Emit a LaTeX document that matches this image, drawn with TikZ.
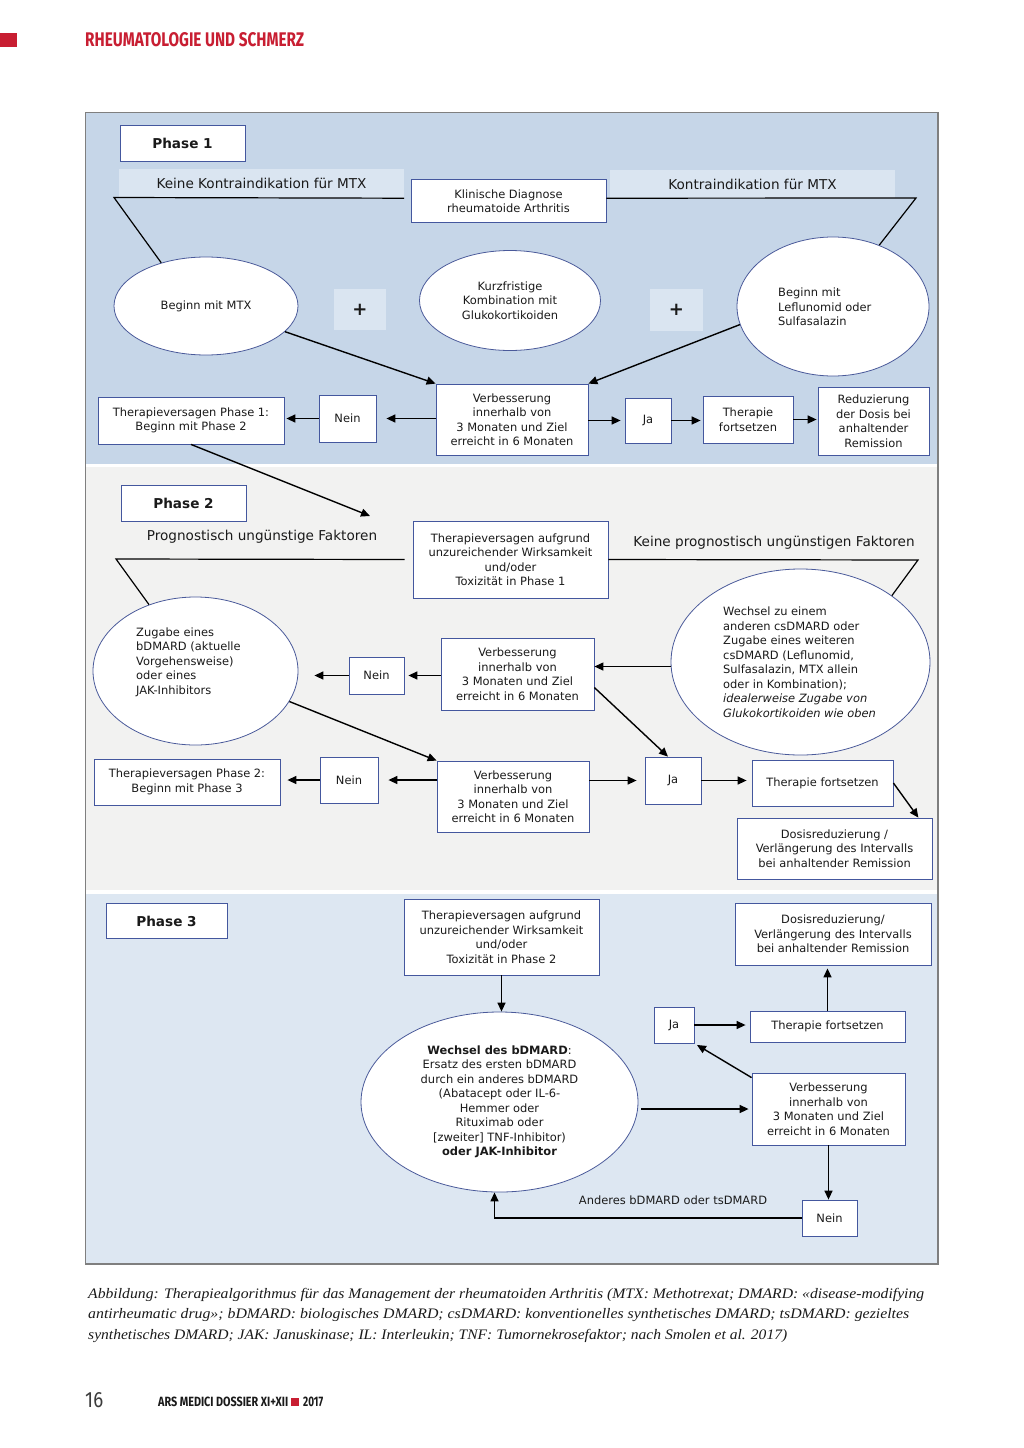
\documentclass[tikz,border=0pt]{standalone}
\usepackage{fontspec}
\usepackage{graphicx}
\usetikzlibrary{arrows.meta,shapes.geometric}
\setmainfont{DejaVu Sans}
\newfontfamily\headfont{Fira Sans}
\newfontfamily\capfont{Liberation Serif}
\definecolor{pone}{HTML}{C6D6E8}
\definecolor{ptwo}{HTML}{F2F2F1}
\definecolor{pthree}{HTML}{DDE7F2}
\definecolor{barc}{HTML}{DAE5F1}
\definecolor{boxc}{HTML}{44579E}
\definecolor{ellc}{HTML}{4A5A9A}
\definecolor{framec}{HTML}{7F7F7F}
\definecolor{redc}{HTML}{C81E32}
\definecolor{txtc}{HTML}{1A1A1A}
\newcommand\bxf{\fontsize{11.45}{14.5}\selectfont}
\newcommand\lbf{\fontsize{13.6}{16}\selectfont}
\begin{document}
\begin{tikzpicture}[x=1pt,y=-1pt,
  box/.style={draw=boxc, fill=white, line width=0.8pt, inner sep=0pt, align=center, font=\bxf, text=txtc},
  ell/.style={ellipse, draw=ellc, fill=white, line width=0.8pt, inner sep=0pt, align=center, font=\bxf, text=txtc},
  etext/.style={anchor=west, inner sep=0pt, align=left, font=\bxf, text=txtc},
  bar/.style={fill=barc, inner sep=0pt, font=\lbf, text=txtc},
  lbl/.style={inner sep=0pt, font=\lbf, text=txtc},
  phasebox/.style={box, font=\lbf\bfseries},
  plusbox/.style={bar, font=\fontsize{18}{18}\selectfont\bfseries},
  arr/.style={line width=1.4pt, -{Triangle[length=9pt,width=8pt]}},
  conn/.style={line width=1.2pt}]
\useasboundingbox (0,0) rectangle (1024,1448);
\fill[white] (0,0) rectangle (1024,1448);
% header
\fill[redc] (0,33) rectangle (17,47);
\node[anchor=west, inner sep=0pt, text=redc] (hd) at (85,40) {\resizebox{219pt}{14pt}{\headfont\bfseries RHEUMATOLOGIE UND SCHMERZ}};
% bands
\fill[pone] (85,113) rectangle (938,464);
\fill[ptwo] (85,467) rectangle (938,890);
\fill[pthree] (85,894) rectangle (938,1264);
\draw[framec, line width=1.2pt] (85.5,112.5) rectangle (938,1264);

% ---------- Phase 1
\node[phasebox, minimum width=125, minimum height=36] (ph1) at (182.5,143) {Phase 1};
\node[bar, minimum width=285, minimum height=29] (kb1) at (261.5,183.5) {Keine Kontraindikation für MTX};
\node[box, minimum width=195, minimum height=43] (klin) at (508.5,201) {Klinische Diagnose\\rheumatoide Arthritis};
\node[bar, minimum width=285, minimum height=28] (kb2) at (752.5,184) {Kontraindikation für MTX};
\node[plusbox, minimum width=52, minimum height=41] (pl1) at (360,309.5) {+};
\node[plusbox, minimum width=53, minimum height=42] (pl2) at (676.5,310) {+};
\node[ell, minimum width=184, minimum height=98] (e1) at (206,306) {Beginn mit MTX};
\node[ell, minimum width=181, minimum height=100] (e2) at (510,300.5) {Kurzfristige\\Kombination mit\\Glukokortikoiden};
\node[ell, minimum width=192, minimum height=139] (e3) at (833,306.5) {};
\node[etext] (e3t) at (778,307) {Beginn mit\\Leflunomid oder\\Sulfasalazin};
\node[box, minimum width=152, minimum height=71] (v1) at (512,419.5) {Verbesserung\\innerhalb von\\3 Monaten und Ziel\\erreicht in 6 Monaten};
\node[box, minimum width=46, minimum height=45] (ja1) at (648,420.5) {Ja};
\node[box, minimum width=90, minimum height=47] (tf1) at (748,419.5) {Therapie\\fortsetzen};
\node[box, minimum width=111, minimum height=68] (red1) at (873.5,421) {Reduzierung\\der Dosis bei\\anhaltender\\Remission};
\node[box, minimum width=57, minimum height=47] (n1) at (347.5,418.5) {Nein};
\node[box, minimum width=186, minimum height=47] (tv1) at (191,420.5) {Therapieversagen Phase 1:\\Beginn mit Phase 2};

\coordinate (c1) at (114,197.5);
\draw[conn] (kb1.south east) -- (c1) -- (e1.136);
\coordinate (c2) at (916,198);
\draw[conn] (klin.east |- kb2.south) -- (c2) -- (e3.53);
\draw[arr] (e1.-18) -- (v1.north west);
\draw[arr] (e3.191) -- (v1.north east);
\draw[arr, shorten >=10pt] (v1.west |- n1.east) -- (n1.east);
\draw[arr, shorten >=2pt] (n1.west) -- (n1.west -| tv1.east);
\draw[arr, shorten >=4pt] (v1.east |- ja1.west) -- (ja1.west);
\draw[arr, shorten >=2pt] (ja1.east) -- (ja1.east -| tf1.west);
\draw[arr, shorten >=1pt] (tf1.east) -- (tf1.east -| red1.west);
\coordinate (t1) at (370,516);
\draw[arr] (tv1.south) -- (t1);

% ---------- Phase 2
\node[phasebox, minimum width=125, minimum height=36] (ph2) at (183.5,503.5) {Phase 2};
\node[lbl] (prog) at (262,537) {Prognostisch ungünstige Faktoren};
\node[box, minimum width=195, minimum height=77] (tva1) at (510.5,559.5) {Therapieversagen aufgrund\\unzureichender Wirksamkeit\\und/oder\\Toxizität in Phase 1};
\node[lbl] (kpf) at (774,543) {Keine prognostisch ungünstigen Faktoren};
\node[ell, minimum width=205, minimum height=148] (e4) at (195.5,671) {};
\node[etext] (e4t) at (136,662) {Zugabe eines\\bDMARD (aktuelle\\Vorgehensweise)\\oder eines\\JAK-Inhibitors};
\node[box, minimum width=55, minimum height=37] (n2) at (376.5,675.5) {Nein};
\node[box, minimum width=153, minimum height=72] (v2) at (517.5,674) {Verbesserung\\innerhalb von\\3 Monaten und Ziel\\erreicht in 6 Monaten};
\node[ell, minimum width=259, minimum height=186] (e5) at (800.5,662) {};
\node[etext] (e5t) at (723,662) {Wechsel zu einem\\anderen csDMARD oder\\Zugabe eines weiteren\\csDMARD (Leflunomid,\\Sulfasalazin, MTX allein\\oder in Kombination);\\\textit{idealerweise Zugabe von}\\\textit{Glukokortikoiden wie oben}};
\node[box, minimum width=186, minimum height=46] (tv2) at (187,782) {Therapieversagen Phase 2:\\Beginn mit Phase 3};
\node[box, minimum width=58, minimum height=46] (n3) at (349,780) {Nein};
\node[box, minimum width=152, minimum height=71] (v3) at (513,796.5) {Verbesserung\\innerhalb von\\3 Monaten und Ziel\\erreicht in 6 Monaten};
\node[box, minimum width=56, minimum height=47] (ja2) at (673,780.5) {Ja};
\node[box, minimum width=141, minimum height=46] (tf2) at (822.5,783) {Therapie fortsetzen};
\node[box, minimum width=195, minimum height=61] (d2) at (834.5,848.5) {Dosisreduzierung /\\Verlängerung des Intervalls\\bei anhaltender Remission};

\coordinate (c3) at (116,559);
\draw[conn] ([xshift=-8pt]tva1.west) -- (c3) -- (e4.125);
\coordinate (c4) at (918,560);
\draw[conn] (tva1.east) -- (c4) -- (e5.36);
\draw[arr] (e5.182) -- (e5.182 -| v2.east);
\draw[arr, shorten >=4pt] (v2.west |- n2.east) -- (n2.east);
\draw[arr, shorten >=16pt] (n2.west) -- (n2.west -| e4.east);
\draw[arr] (v2.-10) -- ([xshift=-5pt]ja2.north);
\draw[arr] (e4.-18) -- (v3.north west);
\draw[arr, shorten >=10pt] (v3.west |- n3.east) -- (n3.east);
\draw[arr, shorten >=7pt] (n3.west) -- (n3.west -| tv2.east);
\draw[arr, shorten >=8pt] (v3.east |- ja2.west) -- (ja2.west);
\draw[arr, shorten >=5pt] (ja2.east) -- (ja2.east -| tf2.west);
\draw[arr] (tf2.east) -- ([xshift=-14pt]d2.north east);

% ---------- Phase 3
\node[phasebox, minimum width=121, minimum height=35] (ph3) at (166.5,921) {Phase 3};
\node[box, minimum width=195, minimum height=76] (tva2) at (501.5,937) {Therapieversagen aufgrund\\unzureichender Wirksamkeit\\und/oder\\Toxizität in Phase 2};
\node[box, minimum width=196, minimum height=62] (d3) at (833,934) {Dosisreduzierung/\\Verlängerung des Intervalls\\bei anhaltender Remission};
\node[ell, minimum width=277, minimum height=180] (e6) at (499.5,1102) {\textbf{Wechsel des bDMARD}:\\Ersatz des ersten bDMARD\\durch ein anderes bDMARD\\(Abatacept oder IL-6-\\Hemmer oder\\Rituximab oder\\{[zweiter]} TNF-Inhibitor)\\\textbf{oder JAK-Inhibitor}};
\node[box, minimum width=40, minimum height=36] (ja3) at (674,1025) {Ja};
\node[box, minimum width=155, minimum height=31] (tf3) at (827.5,1026.5) {Therapie fortsetzen};
\node[box, minimum width=153, minimum height=72] (v4) at (828.5,1109) {Verbesserung\\innerhalb von\\3 Monaten und Ziel\\erreicht in 6 Monaten};
\node[box, minimum width=55, minimum height=36] (n4) at (829.5,1218) {Nein};
\node[inner sep=0pt, font=\bxf, text=txtc] (andl) at (673,1200.5) {Anderes bDMARD oder tsDMARD};

\draw[arr] (tva2.south) -- (tva2.south |- e6.north);
\draw[arr, shorten >=4pt] (ja3.east) -- (ja3.east -| tf3.west);
\draw[arr, shorten >=3pt] (tf3.north) -- (tf3.north |- d3.south);
\draw[arr, shorten >=3pt] ([yshift=-5pt]v4.north west) -- (ja3.south east);
\draw[arr, shorten <=3pt, shorten >=3pt] (e6.east |- v4.west) -- (v4.west);
\draw[arr] (v4.south) -- (v4.south |- n4.north);
\draw[arr] (n4.west) -| ([xshift=-5pt]e6.south);

% ---------- caption
\node[anchor=base west, inner sep=0pt, text=txtc] (cap1) at (88,1298) {\resizebox{836pt}{\height}{\capfont\itshape\fontsize{14.5}{18}\selectfont Abbildung: Therapiealgorithmus für das Management der rheumatoiden Arthritis (MTX: Methotrexat; DMARD: «disease-modifying}};
\node[anchor=base west, inner sep=0pt, text=txtc] (cap2) at (88,1318.5) {\resizebox{821pt}{\height}{\capfont\itshape\fontsize{14.5}{18}\selectfont antirheumatic drug»; bDMARD: biologisches DMARD; csDMARD: konventionelles synthetisches DMARD; tsDMARD: gezieltes}};
\node[anchor=base west, inner sep=0pt, text=txtc] (cap3) at (88,1339) {\resizebox{699pt}{\height}{\capfont\itshape\fontsize{14.5}{18}\selectfont synthetisches DMARD; JAK: Januskinase; IL: Interleukin; TNF: Tumornekrosefaktor; nach Smolen et al. 2017)}};

% ---------- footer
\node[anchor=west, inner sep=0pt, text=txtc!85] (pg) at (85,1400) {\resizebox{18pt}{15pt}{\headfont 16}};
\node[anchor=west, inner sep=0pt, text=txtc] (ft) at (158,1402) {\resizebox{130pt}{9.5pt}{\headfont\bfseries ARS MEDICI DOSSIER XI+XII}};
\fill[redc] (291,1398) rectangle (299,1406);
\node[anchor=west, inner sep=0pt, text=txtc] (yr) at (303,1402) {\resizebox{20pt}{9.5pt}{\headfont\bfseries 2017}};
\end{tikzpicture}
\end{document}
